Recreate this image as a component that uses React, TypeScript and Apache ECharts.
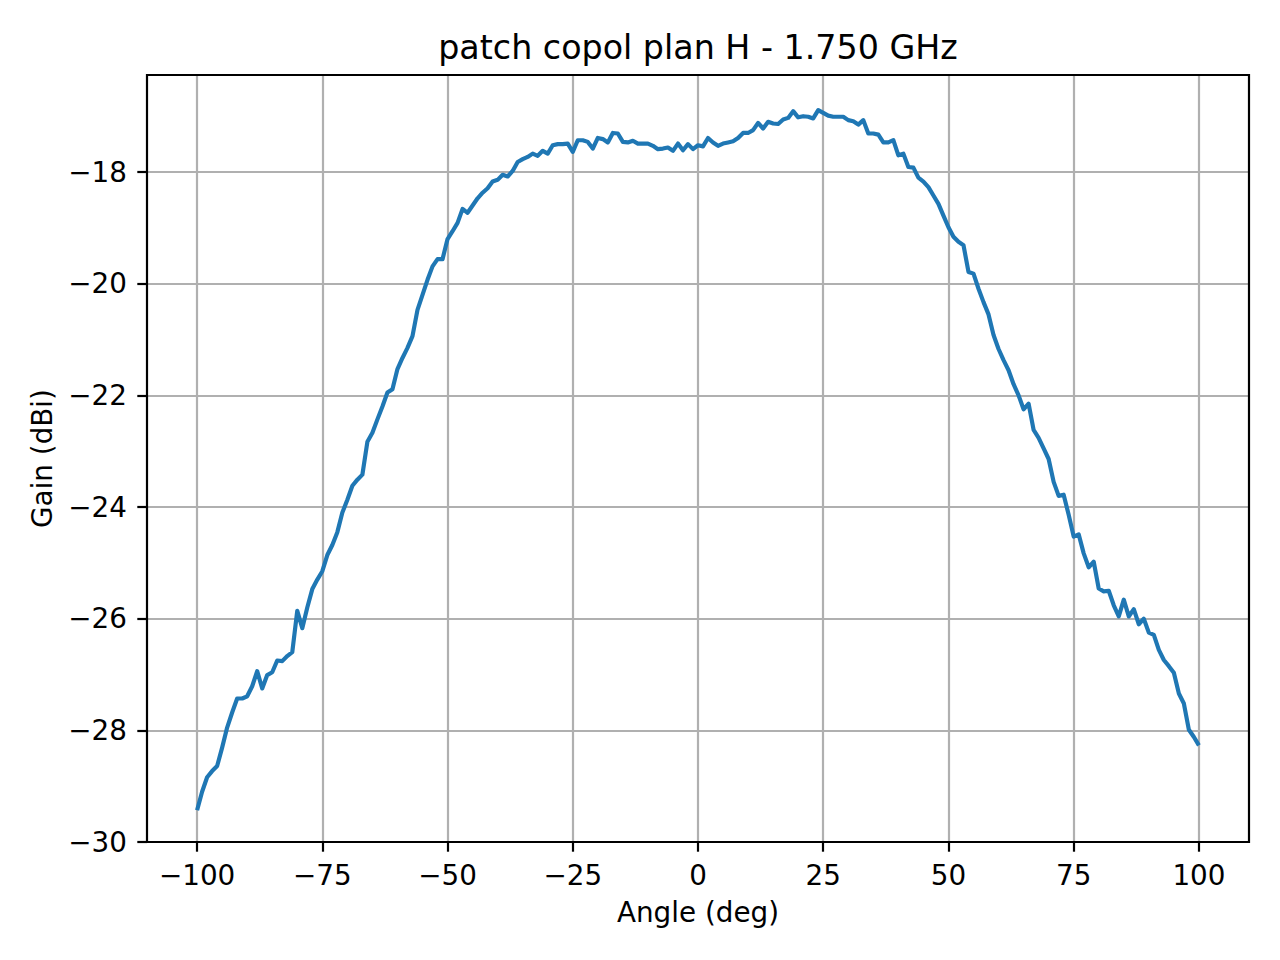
import { useEffect, useRef } from 'react';
import * as echarts from 'echarts';

const FONT = 'DejaVu Sans';
const TITLE = 'patch copol plan H - 1.750 GHz';
const X_NAME = 'Angle (deg)';
const Y_NAME = 'Gain (dBi)';

// angles run from -100 to 100 deg in 1 deg steps
const ANGLE_START = -100;
const xTicks = [-100, -75, -50, -25, 0, 25, 50, 75, 100];
const yTicks = [-30, -28, -26, -24, -22, -20, -18];

// gain (dBi), -100 .. -51 deg
const gainA = [
  -29.43, -29.10, -28.84, -28.73, -28.64, -28.31, -27.95, -27.68, -27.43, -27.43,
  -27.39, -27.21, -26.94, -27.25, -27.01, -26.96, -26.75, -26.76, -26.67, -26.60,
  -25.86, -26.17, -25.80, -25.47, -25.30, -25.15, -24.86, -24.68, -24.45, -24.10,
  -23.87, -23.62, -23.51, -23.42, -22.83, -22.67, -22.43, -22.20, -21.95, -21.89,
  -21.53, -21.33, -21.15, -20.94, -20.47, -20.20, -19.93, -19.69, -19.56, -19.56,
];
// -50 .. -1 deg
const gainB = [
  -19.20, -19.06, -18.91, -18.66, -18.73, -18.60, -18.47, -18.37, -18.29, -18.17,
  -18.14, -18.05, -18.08, -17.98, -17.82, -17.77, -17.73, -17.67, -17.71, -17.62,
  -17.67, -17.52, -17.50, -17.50, -17.49, -17.64, -17.43, -17.43, -17.46, -17.58,
  -17.39, -17.41, -17.47, -17.30, -17.31, -17.46, -17.47, -17.44, -17.49, -17.49,
  -17.49, -17.53, -17.59, -17.58, -17.56, -17.62, -17.49, -17.61, -17.50, -17.59,
];
// 0 .. 49 deg
const gainC = [
  -17.52, -17.54, -17.39, -17.47, -17.53, -17.49, -17.47, -17.45, -17.39, -17.30,
  -17.30, -17.25, -17.12, -17.22, -17.10, -17.13, -17.14, -17.06, -17.03, -16.91,
  -17.02, -17.00, -17.01, -17.04, -16.89, -16.94, -16.99, -17.01, -17.01, -17.01,
  -17.07, -17.09, -17.15, -17.07, -17.31, -17.31, -17.33, -17.47, -17.47, -17.43,
  -17.70, -17.67, -17.91, -17.92, -18.10, -18.17, -18.27, -18.42, -18.57, -18.78,
];
// 50 .. 100 deg
const gainD = [
  -18.99, -19.16, -19.25, -19.31, -19.79, -19.82, -20.09, -20.33, -20.55, -20.92,
  -21.17, -21.37, -21.55, -21.80, -22.00, -22.25, -22.15, -22.62, -22.76, -22.95,
  -23.14, -23.55, -23.80, -23.78, -24.14, -24.53, -24.49, -24.83, -25.08, -24.98,
  -25.46, -25.51, -25.50, -25.76, -25.96, -25.66, -25.96, -25.83, -26.10, -26.00,
  -26.25, -26.29, -26.56, -26.74, -26.85, -26.97, -27.34, -27.52, -27.99, -28.12,
  -28.27,
];

const fmt = (v: number) => (v < 0 ? '\u2212' + Math.abs(v) : String(v));

export default function App() {
  const chartRef = useRef<HTMLDivElement>(null);

  useEffect(() => {
    if (!chartRef.current) return;
    const chart = echarts.init(chartRef.current, null, { renderer: 'svg' });

    const gain = [...gainA, ...gainB, ...gainC, ...gainD];
    const points = gain.map((g, i) => [ANGLE_START + i, g]);

    const tickStyle = { color: '#000', width: 2.2 };
    const labelStyle = { fontSize: 27.8, color: '#000', fontFamily: FONT, formatter: fmt };

    chart.setOption({
      animation: false,
      backgroundColor: '#fff',
      textStyle: { fontFamily: FONT },
      grid: { left: 147, right: 31, top: 75, bottom: 118, outerBoundsMode: 'none' },
      xAxis: {
        type: 'value',
        min: -110,
        max: 110,
        name: X_NAME,
        nameLocation: 'middle',
        nameGap: 70,
        nameMoveOverlap: false,
        nameTextStyle: { fontSize: 27.8, color: '#000', fontFamily: FONT, verticalAlign: 'middle' },
        axisLine: { show: false, onZero: false },
        axisTick: { show: true, length: 9.7, customValues: xTicks, lineStyle: tickStyle },
        axisLabel: { ...labelStyle, customValues: xTicks, margin: 19.5 },
        splitLine: { show: true, lineStyle: { color: '#b0b0b0', width: 2.2 } },
      },
      yAxis: {
        type: 'value',
        min: -30,
        max: -16.262,
        name: Y_NAME,
        nameLocation: 'middle',
        nameGap: 104.6,
        nameMoveOverlap: false,
        nameTextStyle: { fontSize: 27.8, color: '#000', fontFamily: FONT, verticalAlign: 'middle' },
        axisLine: { show: false, onZero: false },
        axisTick: { show: true, length: 9.7, customValues: yTicks, lineStyle: tickStyle },
        axisLabel: { ...labelStyle, customValues: yTicks, margin: 20 },
        splitLine: { show: true, lineStyle: { color: '#b0b0b0', width: 2.2 } },
      },
      graphic: [
        {
          type: 'rect',
          z: 100,
          silent: true,
          shape: { x: 147, y: 75, width: 1102, height: 767 },
          style: { fill: 'none', stroke: '#000', lineWidth: 2.2 },
        },
        {
          type: 'text',
          z: 100,
          x: 698,
          y: 47,
          style: {
            text: TITLE,
            fill: '#000',
            fontSize: 33.3,
            fontFamily: FONT,
            align: 'center',
            verticalAlign: 'middle',
          },
        },
      ],
      series: [
        {
          type: 'line',
          data: points,
          showSymbol: false,
          z: 5,
          lineStyle: { color: '#1f77b4', width: 4.17, join: 'round' },
        },
      ],
    });

    return () => chart.dispose();
  }, []);

  return (
    <div
      ref={chartRef}
      style={{ position: 'fixed', left: 0, top: 0, width: 1280, height: 960, background: '#fff' }}
    />
  );
}
